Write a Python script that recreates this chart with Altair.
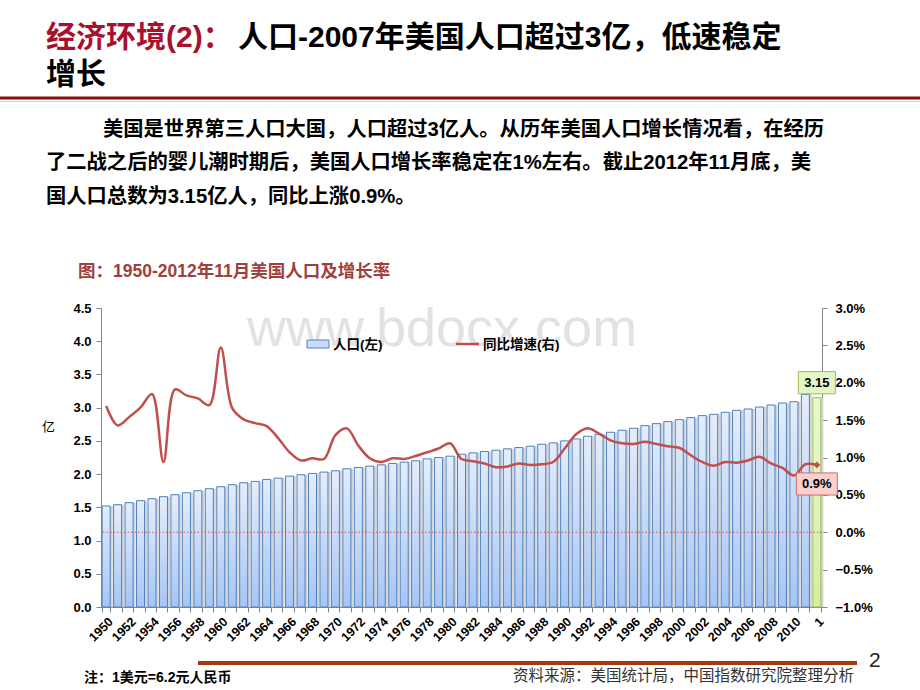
import altair as alt
import pandas as pd

# ---------------- data ----------------
categories = ["1950","1951","1952","1953","1954","1955","1956","1957","1958","1959",
              "1960","1961","1962","1963","1964","1965","1966","1967","1968","1969",
              "1970","1971","1972","1973","1974","1975","1976","1977","1978","1979",
              "1980","1981","1982","1983","1984","1985","1986","1987","1988","1989",
              "1990","1991","1992","1993","1994","1995","1996","1997","1998","1999",
              "2000","2001","2002","2003","2004","2005","2006","2007","2008","2009",
              "2010","2011","1"]
population = [1.52,1.54,1.57,1.60,1.63,1.66,1.69,1.72,1.75,1.78,
              1.81,1.84,1.87,1.89,1.92,1.94,1.97,1.99,2.01,2.03,
              2.05,2.08,2.10,2.12,2.14,2.16,2.18,2.20,2.23,2.25,
              2.27,2.30,2.32,2.34,2.36,2.38,2.40,2.42,2.45,2.47,
              2.50,2.53,2.57,2.60,2.63,2.66,2.69,2.73,2.76,2.79,
              2.82,2.85,2.88,2.90,2.93,2.96,2.98,3.01,3.04,3.07,
              3.09,3.20,3.15]
growth = [1.69,1.43,1.54,1.67,1.85,0.94,1.91,1.83,1.79,1.70,
          2.47,1.66,1.51,1.46,1.42,1.26,1.07,0.96,0.99,0.98,
          1.30,1.39,1.16,0.99,0.94,0.99,0.98,1.02,1.07,1.12,
          1.19,0.98,0.95,0.92,0.87,0.88,0.92,0.90,0.91,0.94,
          1.12,1.31,1.39,1.32,1.23,1.19,1.18,1.21,1.18,1.15,
          1.13,1.03,0.94,0.89,0.94,0.93,0.96,1.01,0.92,0.86,
          0.76,0.91,0.90]
last_category = "1"
pop_label = "3.15"
growth_label = "0.9%"

left_ticks = [0.0,0.5,1.0,1.5,2.0,2.5,3.0,3.5,4.0,4.5]
right_ticks = [-1.0,-0.5,0.0,0.5,1.0,1.5,2.0,2.5,3.0]

title_red = "经济环境(2)："
title_black = "人口-2007年美国人口超过3亿，低速稳定"
title_line2 = "增长"
body_lines = ["美国是世界第三人口大国，人口超过3亿人。从历年美国人口增长情况看，在经历",
              "了二战之后的婴儿潮时期后，美国人口增长率稳定在1%左右。截止2012年11月底，美",
              "国人口总数为3.15亿人，同比上涨0.9%。"]
chart_title = "图：1950-2012年11月美国人口及增长率"
legend_pop = "人口(左)"
legend_growth = "同比增速(右)"
unit_left = "亿"
note_text = "注：1美元=6.2元人民币"
source_text = "资料来源：美国统计局，中国指数研究院整理分析"
page_no = "2"
watermark = "www.bdocx.com"

df = pd.DataFrame({"cat": categories, "pop": population, "g": growth})

FONT = "'Liberation Sans', 'Noto Sans CJK SC', sans-serif"
W, H = 721, 299
OX, OY = 101, 308  # plot origin in page

xenc = alt.X("cat:N", sort=categories,
             scale=alt.Scale(paddingInner=0.3, paddingOuter=0.1),
             axis=alt.Axis(title=None, labelAngle=-45, labelFontSize=12.5, labelFontWeight="bold",
                           labelColor="black", labelFont=FONT, labelOverlap=False,
                           labelExpr="datum.value == '1' || toNumber(datum.value) % 2 == 0 ? datum.value : ''",
                           tickBand="extent", tickSize=5, tickColor="#868686", domainColor="#868686",
                           labelPadding=3, grid=False))

yleft = alt.Y("pop:Q", scale=alt.Scale(domain=[0, 4.5], nice=False),
              axis=alt.Axis(title=None, values=left_ticks, format=".1f", labelFontSize=13,
                            labelFontWeight="bold", labelColor="black", labelFont=FONT,
                            tickSize=5, tickColor="#868686", domainColor="#868686",
                            labelPadding=5, grid=False))

base = alt.Chart(df)

blue_grad = alt.LinearGradient(gradient="linear",
                               stops=[alt.GradientStop(color="#e4edfb", offset=0),
                                      alt.GradientStop(color="#a6c5f5", offset=1)],
                               x1=0, x2=0, y1=0, y2=1)
green_grad = alt.LinearGradient(gradient="linear",
                                stops=[alt.GradientStop(color="#eaf8cf", offset=0),
                                       alt.GradientStop(color="#d2efa4", offset=1)],
                                x1=0, x2=0, y1=0, y2=1)

shadow = base.mark_bar(color="#d4d4d4", xOffset=2.5).encode(x=xenc, y=yleft)
blue = base.transform_filter(alt.datum.cat != last_category).mark_bar(
    fill=blue_grad, stroke="#4f81bd", strokeWidth=1).encode(x=xenc, y=yleft)
green = base.transform_filter(alt.datum.cat == last_category).mark_bar(
    fill=green_grad, stroke="#9bbb59", strokeWidth=1).encode(x=xenc, y=yleft)

box_path_g = "M-1,-0.6L1,-0.6L1,0.6L-1,0.6Z"
box_green = base.transform_filter(alt.datum.cat == last_category).mark_point(
    shape=box_path_g, size=37*37, filled=True, fill="#e4f5c6", stroke="#9bbb59",
    strokeWidth=1, opacity=1, yOffset=-15).encode(x=xenc, y=yleft)
txt_green = base.transform_filter(alt.datum.cat == last_category).mark_text(
    text=pop_label, font=FONT, fontSize=13, fontWeight="bold", color="black", dy=-15
).encode(x=xenc, y=yleft)

left_layer = alt.layer(shadow, blue, green, box_green, txt_green)

yright = alt.Y("g:Q", scale=alt.Scale(domain=[-1, 3], nice=False),
               axis=alt.Axis(title=None, orient="right", values=right_ticks,
                             labelExpr="format(datum.value, '.1f') + '%'", labelFontSize=13,
                             labelFontWeight="bold", labelColor="black", labelFont=FONT,
                             tickSize=5, tickColor="#868686", domainColor="#868686",
                             labelPadding=8, grid=False))

zero_rule = alt.Chart(pd.DataFrame({"g": [0.0]})).mark_rule(
    color="#d9534f", strokeDash=[1.5, 2], strokeWidth=1).encode(y=yright)
line = base.mark_line(color="#c0504d", strokeWidth=2.5, interpolate="catmull-rom").encode(
    x=xenc, y=yright)
end_pt = base.transform_filter(alt.datum.cat == last_category).mark_point(
    shape="diamond", filled=True, color="#c0504d", size=45, opacity=1).encode(x=xenc, y=yright)
box_path_r = "M-1,-0.54L1,-0.54L1,0.54L-1,0.54Z"
box_red = base.transform_filter(alt.datum.cat == last_category).mark_point(
    shape=box_path_r, size=41*41, filled=True, fill="#f7cfcf", stroke="#d26b6b",
    strokeWidth=1, opacity=1, yOffset=19).encode(x=xenc, y=yright)
txt_red = base.transform_filter(alt.datum.cat == last_category).mark_text(
    text=growth_label, font=FONT, fontSize=13, fontWeight="bold", color="black", dy=19
).encode(x=xenc, y=yright)

right_layer = alt.layer(zero_rule, line, end_pt, box_red, txt_red)

one = pd.DataFrame({"a": [1]})


def txt(t, x, y, size, color="black", weight="normal", align="left", baseline="middle"):
    return alt.Chart(one).mark_text(text=t, font=FONT, fontSize=size, fontWeight=weight,
                                    color=color, align=align, baseline=baseline).encode(
        x=alt.value(x - OX), y=alt.value(y - OY))


def hrule(x1, x2, y, color, width):
    return alt.Chart(one).mark_rule(color=color, strokeWidth=width).encode(
        x=alt.value(x1 - OX), x2=alt.value(x2 - OX), y=alt.value(y - OY))


wm = txt(watermark, 247, 330, 54, color="#e2e2e2")

decor = [
    txt(title_red, 46, 38, 30, color="#a8102e", weight="bold"),
    txt(title_black, 238, 38, 30, weight="bold"),
    txt(title_line2, 46, 75, 30, weight="bold"),
    hrule(0, 920, 98, "#8e0c0c", 3),
    hrule(0, 920, 101.5, "#e9c9c9", 1),
    txt(body_lines[0], 103, 130, 20.3, weight="bold"),
    txt(body_lines[1], 46, 163, 20.3, weight="bold"),
    txt(body_lines[2], 46, 197, 20.3, weight="bold"),
    txt(chart_title, 78, 272, 17.5, color="#a0403d", weight="bold"),
    txt(unit_left, 42, 427, 13),
    alt.Chart(one).mark_rect(fill="#c9dcf8", stroke="#4f81bd", strokeWidth=1).encode(
        x=alt.value(307 - OX), x2=alt.value(329 - OX), y=alt.value(340 - OY), y2=alt.value(348 - OY)),
    txt(legend_pop, 333, 345, 13.5, weight="bold"),
    hrule(456, 479, 344, "#c0504d", 2.5),
    txt(legend_growth, 483, 345, 13.5, weight="bold"),
    hrule(198, 857, 663, "#a23a10", 4),
    txt(page_no, 869, 661, 21, color="#222222"),
    txt(note_text, 84, 678, 14, weight="bold"),
    txt(source_text, 513, 676, 15.5, color="#333333"),
]

chart = alt.layer(wm, left_layer, right_layer, *decor).resolve_scale(y="independent").properties(
    width=W, height=H,
    padding={"left": OX, "top": OY, "right": 920 - OX - W, "bottom": 690 - OY - H},
    autosize=alt.AutoSizeParams(type="none"),
    background="white",
).configure_view(stroke=None)

chart.save("out.html", embed_options={"renderer": "svg", "actions": False})
